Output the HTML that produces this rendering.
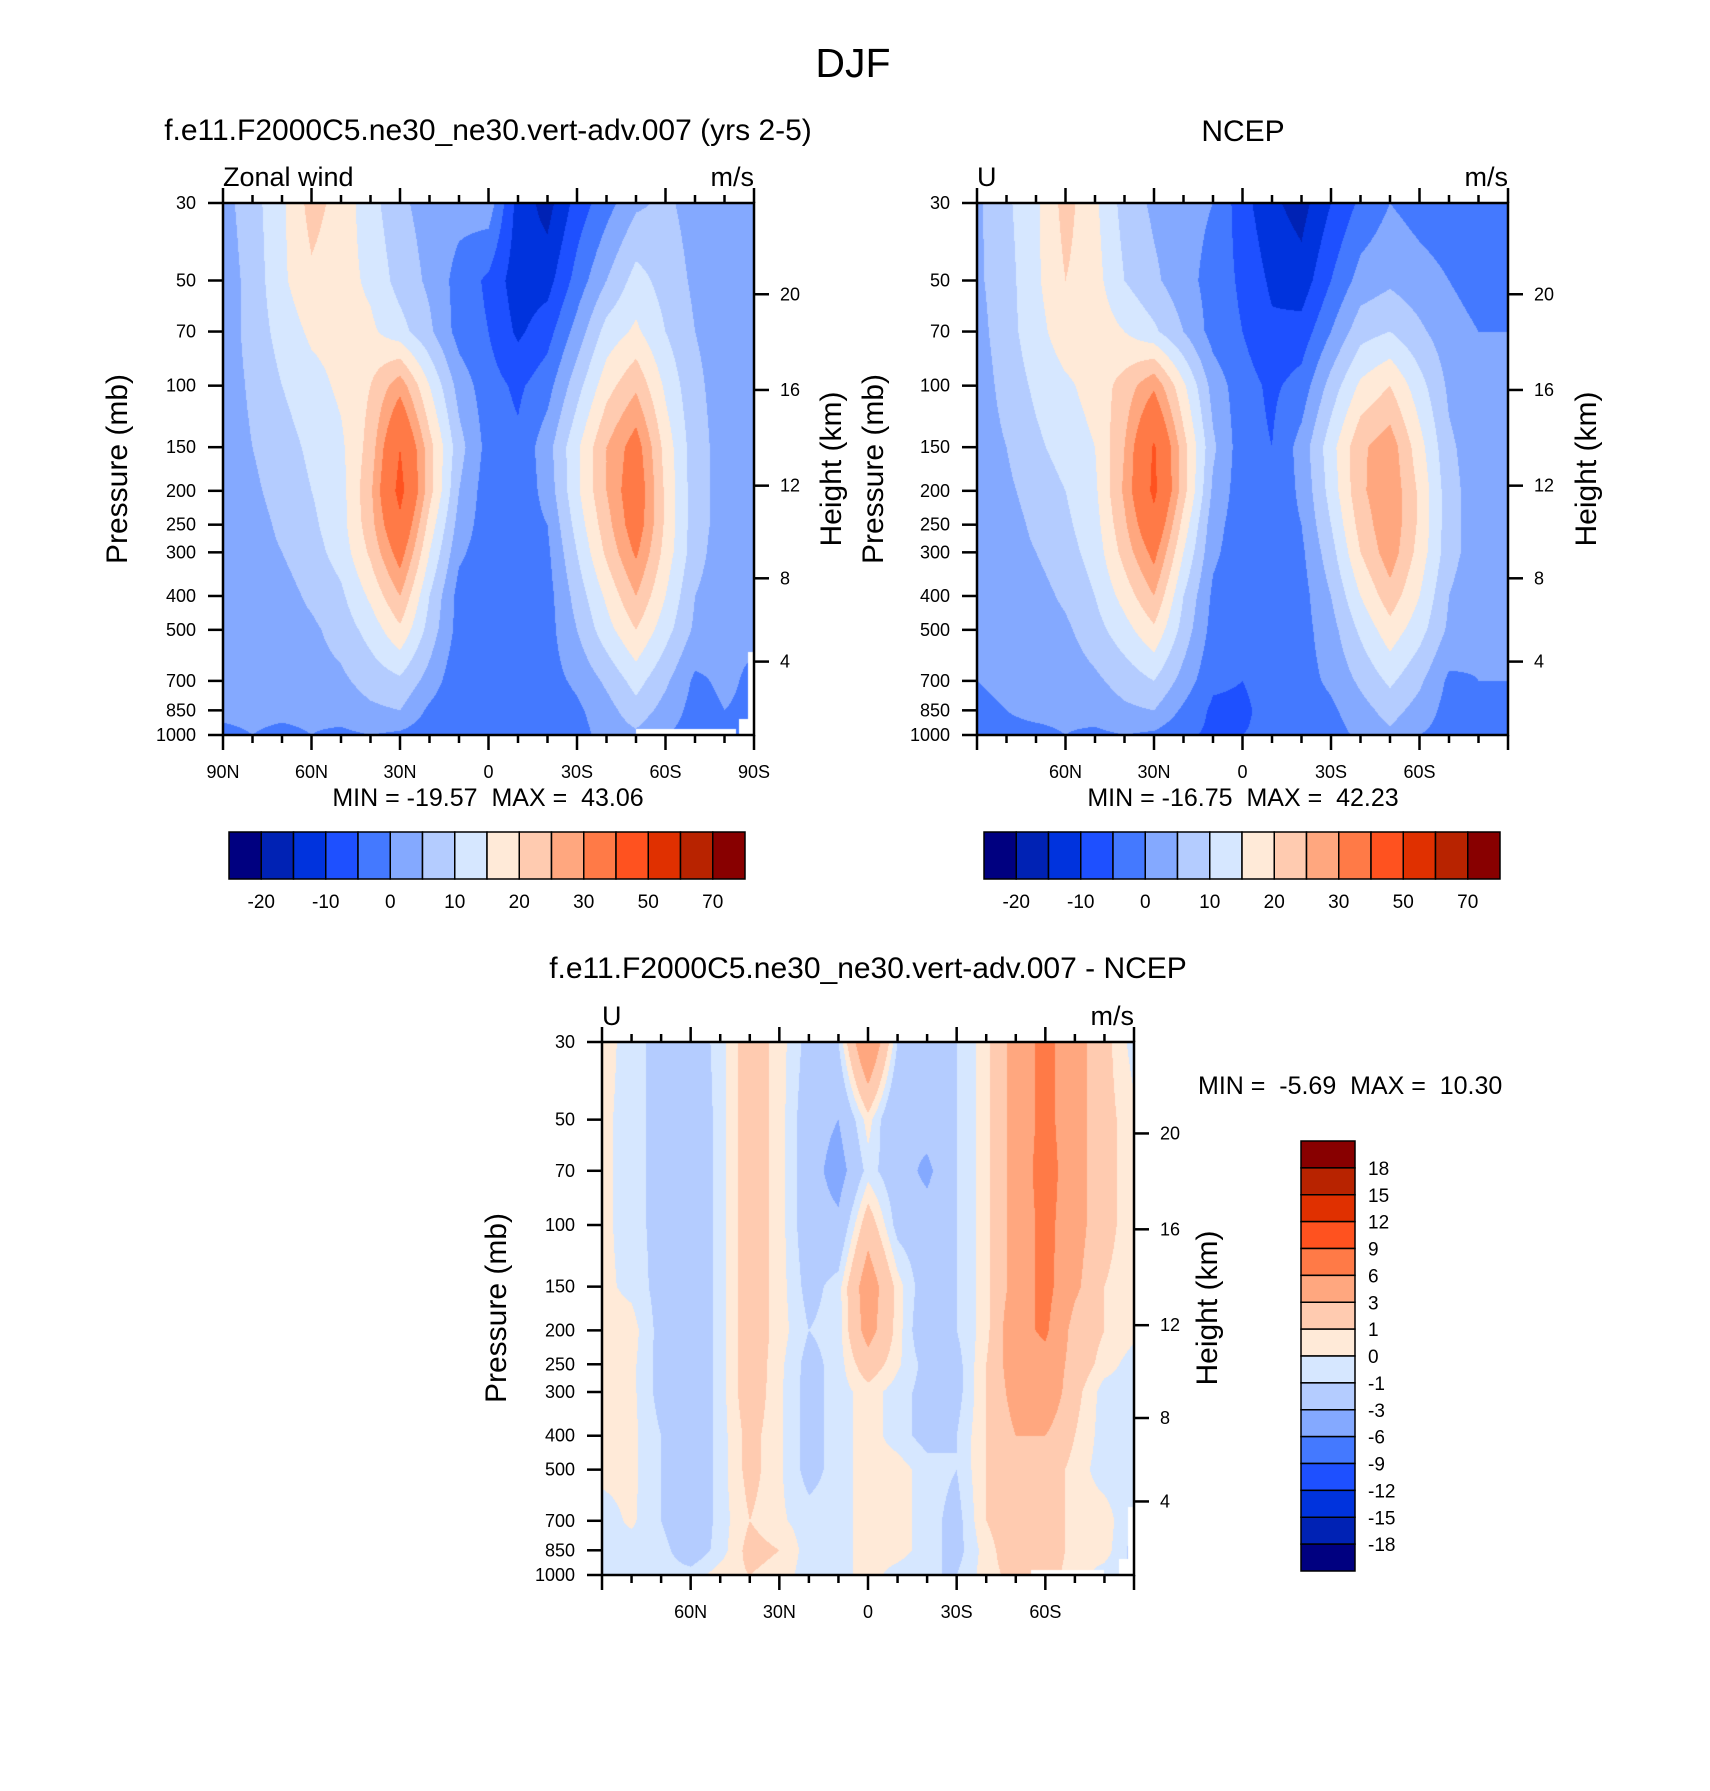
<!DOCTYPE html>
<html><head><meta charset="utf-8">
<style>
html,body{margin:0;padding:0;background:#fff;}
#wrap{position:relative;width:1710px;height:1791px;overflow:hidden;font-family:"Liberation Sans",Arial,sans-serif;}
canvas{position:absolute;}
svg{position:absolute;left:0;top:0;}
svg text{white-space:pre;}
</style></head>
<body>
<div id="wrap">
<canvas id="c1"></canvas>
<canvas id="c2"></canvas>
<canvas id="c3"></canvas>
<svg id="ov" width="1710" height="1791"></svg>
</div>
<script>
// ---- data ----
const lats = [90,80,70,60,50,40,30,20,10,0,-10,-20,-30,-40,-50,-60,-70,-80,-90];
const plevs = [30,50,70,100,150,200,250,300,400,500,700,850,1000];
const model = [
[3,8,14,22,18,12,6,3,2,3,-12,-17,-8,-2,4,6,3,2,2],
[2,7,14,19,17,14,8,4,-2,-6,-13,-12,-3,5,12,8,4,3,3],
[2,7,12,16,17,16,12,6,-2,-5,-11,-7,2,12,16,10,5,3,3],
[2,6,10,13,16,20,28,15,3,-3,-6,-2,8,18,24,14,6,3,3],
[2,5,8,11,14,22,40,22,7,-2,-4,3,14,25,33,18,7,3,3],
[1,4,7,10,13,24,43,22,5,-3,-4,2,14,25,35,19,7,3,3],
[1,3,6,9,13,23,38,18,3,-3,-3,0,12,23,34,19,7,3,3],
[1,3,5,8,12,21,33,15,1,-3,-3,-1,10,21,31,18,7,2,2],
[0,1,3,6,9,16,25,10,-2,-3,-3,-2,7,16,25,15,5,2,2],
[1,2,3,4,7,12,19,8,-2,-3,-3,-2,5,13,20,12,4,1,1],
[1,1,2,3,4,7,9,3,-4,-5,-3,-2,1,6,12,6,-1,1,-1],
[1,1,1,1,2,4,5,-1,-5,-5,-3,-3,-1,3,8,3,-2,0,-1],
[-1,0,-1,0,-1,0,-1,-3,-5,-4,-4,-3,-2,2,4,0,-2,-1,-1]];
const ncep = [
[4,9,14,22,16,8,4,2,0,-8,-14,-17,-10,-4,0,-2,-3,-4,-4],
[4,8,14,20,17,10,6,2,-2,-6,-11,-13,-5,2,4,2,0,-2,-2],
[3,8,13,18,18,15,11,5,-2,-5,-9,-8,0,8,10,6,2,0,0],
[2,7,11,14,17,22,29,16,3,-3,-6,-3,7,16,20,12,4,1,1],
[2,5,9,12,15,25,41,22,6,-3,-5,2,13,24,28,17,6,2,2],
[1,4,7,10,14,26,42,22,4,-3,-4,1,12,24,29,19,7,2,2],
[1,3,6,9,13,24,37,18,2,-3,-3,0,10,22,29,19,7,2,2],
[1,3,5,8,12,22,32,15,1,-3,-3,-1,8,20,28,18,7,2,2],
[0,1,3,6,10,17,25,10,-1,-3,-3,-2,5,15,23,15,5,1,1],
[0,1,2,4,8,13,19,8,-2,-3,-3,-2,3,11,18,12,4,1,1],
[0,1,1,2,4,7,10,3,-4,-5,-3,-2,1,6,11,6,-1,0,0],
[-1,0,1,1,2,4,5,-1,-6,-6,-3,-3,-1,3,7,3,-2,-1,0],
[-2,-1,-1,0,-1,0,-1,-4,-6,-5,-4,-3,-2,1,4,0,-2,-1,0]];
const diff = [
[0.5,-0.5,-1.5,-2,-0.5,2,0.5,-1.5,-1,6,-1,-3,-1,0.5,4,7,4,1.5,-0.5],
[0.3,-0.5,-1.5,-2.5,-0.5,2,0.5,-2,-3,0.5,-3,-2,-1,0.5,4,7,4,1.5,0.3],
[0.3,-0.5,-1.5,-2.5,-0.5,2,0.5,-2,-4,-0.5,-2,-3.5,-1,0.5,4,7.5,4,1.5,0.3],
[0.3,-0.5,-1.5,-2.5,-0.5,2,0.5,-2,-2.5,2,-1.5,-2,-1,0.5,4,7,4,1.5,0.3],
[0.3,-0.3,-1.5,-2.5,-0.5,2,0.5,-1.5,-0.5,4.5,0.5,-2,-1,0.5,4,7,3.5,1,0.3],
[0.5,0.5,-1.5,-2.5,-0.5,2,0.5,-1,-0.5,4,0.5,-2.5,-1,0.5,5,6.5,2,1,0.3],
[0.5,0.3,-1.5,-2.5,-0.5,2,0.3,-1.5,-0.5,2,0.2,-1.5,-1.5,1,4.5,5,2,0.5,-0.5],
[0.5,0.3,-1.5,-2.5,-0.5,2,0.2,-1.5,-0.5,0.5,-0.5,-1.5,-1.5,1,4,5,1.5,-0.5,-0.5],
[0.5,0.3,-1,-2.5,-0.5,1.5,0.2,-1.5,-0.5,0.5,-0.5,-1.5,-1,1,3,3,1,-0.5,-0.5],
[0.3,0.3,-1,-2.5,-0.5,1.5,0.2,-1.5,-0.5,0.5,0.5,-0.5,-1,1,2,2,0.5,-0.5,-0.5],
[-0.5,0.2,-1,-2.5,-0.5,1,0.2,-0.5,-0.5,0.5,0.5,-0.5,-1.5,1,2,2,0.5,0.5,-1],
[-0.5,-0.5,-0.5,-2,-0.5,1.5,1,-0.5,-0.5,0.5,0.5,-0.5,-1.5,0.5,2,2,0.5,0.5,-1.5],
[-0.5,-0.5,-0.5,-0.5,0.5,1,0.5,-0.5,-0.5,0.5,-0.5,-1,-1,0.5,1.5,1.5,0.5,-0.5,-1]];
const levelsU = [-20,-15,-10,-5,0,5,10,15,20,25,30,40,50,60,70];
const levelsD = [-18,-15,-12,-9,-6,-3,-1,0,1,3,6,9,12,15,18];
const cbLabelsU = ["-20","-10","0","10","20","30","50","70"];
const cbLabelsD = ["18","15","12","9","6","3","1","0","-1","-3","-6","-9","-12","-15","-18"];
const palette = ["#000080","#0022B4","#0033DD","#1E50FF","#4479FF","#84A9FF","#B4CCFF","#D6E7FF","#FFEAD8","#FFCBB0","#FFA77F","#FF7A47","#FF521F","#E03000","#B82300","#880000"];
const pTicks = [30,50,70,100,150,200,250,300,400,500,700,850,1000];
const zTicks = [4,8,12,16,20];
const latMajor = [90,60,30,0,-30,-60,-90];
const latNamesFull = ["90N","60N","30N","0","30S","60S","90S"];
const latNamesInner = ["","60N","30N","0","30S","60S",""];
const missing1 = [[-50,-84,960],[-85,-88,900],[-88,-90,580]];
const missing3 = [[-55,-80,965],[-85,-88,900],[-88,-90,640]];

// ---- helpers ----
const NS = "http://www.w3.org/2000/svg";
const ov = document.getElementById('ov');
function el(tag, attrs, parent){const e=document.createElementNS(NS,tag);for(const k in attrs)e.setAttribute(k,attrs[k]);(parent||ov).appendChild(e);return e;}
function txt(x,y,s,size,anchor,name,rot){
  const t=el('text',{x:x,y:y,'font-size':size,'text-anchor':anchor||'middle','font-family':'Liberation Sans, Arial, sans-serif',fill:'#000'});
  if(rot) t.setAttribute('transform','rotate(-90 '+x+' '+y+')');
  
  
  t.textContent=s;return t;}
const LNP = Math.log(1000/30);
function yOfP(top,h,p){return top+h*Math.log(p/30)/LNP;}
function xOfLat(left,w,lat){return left+(90-lat)/180*w;}
function pOfZ(z){const m=z*1000;if(m<=11000)return 1013.25*Math.pow(1-2.25577e-5*m,5.25588);return 226.32*Math.exp(-(m-11000)/6341.6);}
function colorIdx(v,levels){let i=0;while(i<levels.length&&v>=levels[i])i++;return i;}
function hex(c){return [parseInt(c.substr(1,2),16),parseInt(c.substr(3,2),16),parseInt(c.substr(5,2),16)];}
const rgb = palette.map(hex);
function sample(grid,lat,p){
  let fi=(90-lat)/10; let i0=Math.min(17,Math.max(0,Math.floor(fi))); let ti=fi-i0;
  let k=0; while(k<plevs.length-2 && p>plevs[k+1]) k++;
  let tk=Math.log(p/plevs[k])/Math.log(plevs[k+1]/plevs[k]); tk=Math.max(0,Math.min(1,tk));
  const a=grid[k][i0],b=grid[k][i0+1],c=grid[k+1][i0],d=grid[k+1][i0+1];
  return (a*(1-ti)+b*ti)*(1-tk)+(c*(1-ti)+d*ti)*tk;
}
function drawField(id,L,T,W,H,grid,levels,missing){
  const cv=document.getElementById(id);cv.width=W;cv.height=H;cv.style.left=L+'px';cv.style.top=T+'px';
  const ctx=cv.getContext('2d');const img=ctx.createImageData(W,H);
  for(let y=0;y<H;y++){const p=30*Math.exp((y+0.5)/H*LNP);
    for(let x=0;x<W;x++){const lat=90-(x+0.5)/W*180;
      let col=rgb[colorIdx(sample(grid,lat,p),levels)];
      for(const m of missing){if(lat<=m[0]&&lat>=m[1]&&p>=m[2])col=[255,255,255];}
      const o=(y*W+x)*4;img.data[o]=col[0];img.data[o+1]=col[1];img.data[o+2]=col[2];img.data[o+3]=255;}}
  ctx.putImageData(img,0,0);
}
function drawAxes(L,T,W,H,latNames,tag){
  const g=el('g',{});
  
  
  const f=el('rect',{x:L,y:T,width:W,height:H,fill:'none',stroke:'#000','stroke-width':2.5},g);
  
  
  for(const p of pTicks){const y=yOfP(T,H,p);
    el('line',{x1:L-15,y1:y,x2:L,y2:y,stroke:'#000','stroke-width':2.5},g);
    txt(L-27,y+6,String(p),18,'end',tag+'-pressure-tick-label');}
  for(const z of zTicks){const y=yOfP(T,H,pOfZ(z));
    el('line',{x1:L+W,y1:y,x2:L+W+15,y2:y,stroke:'#000','stroke-width':2.5},g);
    txt(L+W+26,y+6,String(z),18,'start',tag+'-height-tick-label');}
  for(let lat=90;lat>=-90;lat-=10){const x=xOfLat(L,W,lat);const maj=(lat%30===0);const len=maj?15:8;
    el('line',{x1:x,y1:T-len,x2:x,y2:T,stroke:'#000','stroke-width':2.5},g);
    el('line',{x1:x,y1:T+H,x2:x,y2:T+H+len,stroke:'#000','stroke-width':2.5},g);}
  latMajor.forEach((lat,i)=>{if(latNames[i])txt(xOfLat(L,W,lat),T+H+43,latNames[i],18,'middle',tag+'-lat-tick-label');});
}
function hbar(L,T,W,H,tag){
  const bw=W/16;
  for(let i=0;i<16;i++){const r=el('rect',{x:L+i*bw,y:T,width:bw,height:H,fill:palette[i],stroke:'#000','stroke-width':1.5});
    
    }
  cbLabelsU.forEach((s,j)=>{txt(L+(2*j+1)*bw,T+H+29,s,19,'middle',tag+'-colorbar-label');});
}

// ---- plots ----
const P1={L:223,T:203,W:531,H:532}, P2={L:977,T:203,W:531,H:532}, P3={L:602,T:1042,W:532,H:533};
drawField('c1',P1.L,P1.T,P1.W,P1.H,model,levelsU,missing1);
drawField('c2',P2.L,P2.T,P2.W,P2.H,ncep,levelsU,[]);
drawField('c3',P3.L,P3.T,P3.W,P3.H,diff,levelsD,missing3);
drawAxes(P1.L,P1.T,P1.W,P1.H,latNamesFull,'model');
drawAxes(P2.L,P2.T,P2.W,P2.H,latNamesInner,'ncep');
drawAxes(P3.L,P3.T,P3.W,P3.H,latNamesInner,'diff');

txt(853,77,'DJF',41,'middle','figure-title');
txt(488,140,'f.e11.F2000C5.ne30_ne30.vert-adv.007 (yrs 2-5)',30,'middle','model-title');
txt(1243,141,'NCEP',30,'middle','ncep-title');
txt(868,978,'f.e11.F2000C5.ne30_ne30.vert-adv.007 - NCEP',30,'middle','diff-title');
txt(P1.L,186,'Zonal wind',27,'start','model-left-string');
txt(P1.L+P1.W,186,'m/s',27,'end','model-units');
txt(P2.L,186,'U',27,'start','ncep-left-string');
txt(P2.L+P2.W,186,'m/s',27,'end','ncep-units');
txt(P3.L,1025,'U',27,'start','diff-left-string');
txt(P3.L+P3.W,1025,'m/s',27,'end','diff-units');
txt(127,469,'Pressure (mb)',30,'middle','model-y-axis-title',true);
txt(841,469,'Height (km)',30,'middle','model-right-axis-title',true);
txt(883,469,'Pressure (mb)',30,'middle','ncep-y-axis-title',true);
txt(1596,469,'Height (km)',30,'middle','ncep-right-axis-title',true);
txt(506,1308,'Pressure (mb)',30,'middle','diff-y-axis-title',true);
txt(1217,1308,'Height (km)',30,'middle','diff-right-axis-title',true);
txt(488,806,'MIN = -19.57  MAX =  43.06',25,'middle','model-min-max');
txt(1243,806,'MIN = -16.75  MAX =  42.23',25,'middle','ncep-min-max');
txt(1198,1094,'MIN =  -5.69  MAX =  10.30',25,'start','diff-min-max');
hbar(229,832,516,47,'model');
hbar(984,832,516,47,'ncep');
// vertical colorbar
(function(){const L=1301,T=1141,W=54,H=430,bh=H/16;
  for(let i=0;i<16;i++){const r=el('rect',{x:L,y:T+i*bh,width:W,height:bh,fill:palette[15-i],stroke:'#000','stroke-width':1.5});
    
    }
  cbLabelsD.forEach((s,j)=>{txt(L+W+13,T+(j+1)*bh+7,s,19,'start','diff-colorbar-label');});
})();
</script>
</body></html>
